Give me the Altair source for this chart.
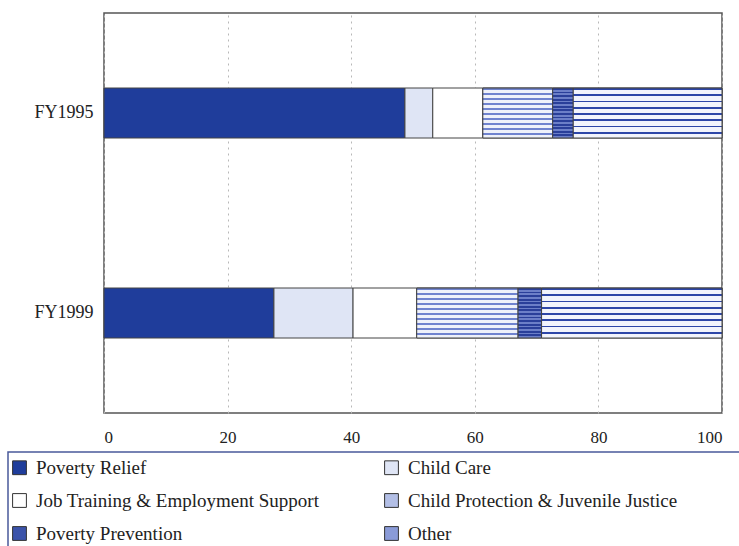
import altair as alt
import pandas as pd

# Share of spending by program area, FY1995 vs FY1999 (percent of total)
years = ["FY1995", "FY1999"]
categories = [
    "Poverty Relief",
    "Child Care",
    "Job Training & Employment Support",
    "Child Protection & Juvenile Justice",
    "Poverty Prevention",
    "Other",
]
fy1995 = [48.7, 4.5, 8.1, 11.3, 3.3, 24.1]
fy1999 = [27.5, 12.8, 10.3, 16.4, 3.8, 29.2]

# Solid tones used for the legend swatches and the base bars
palette = ["#1f3d9b", "#dfe5f5", "#ffffff", "#b3bfe6", "#3b53aa", "#8a9bd8"]

rows = []
for year, values in zip(years, [fy1995, fy1999]):
    for i, (cat, v) in enumerate(zip(categories, values)):
        rows.append({"year": year, "category": cat, "value": v, "order": i})
df = pd.DataFrame(rows)

SERIF = "Liberation Serif"
BAR = 50


def stripes(line, gap, n, frac):
    """Hard-edged horizontal stripes expressed as a vertical linear gradient."""
    stops = []
    for i in range(n):
        a = i / n
        b = (i + frac) / n
        c = (i + 1) / n
        stops += [
            {"offset": a, "color": line},
            {"offset": b, "color": line},
            {"offset": b, "color": gap},
            {"offset": c, "color": gap},
        ]
    return {"gradient": "linear", "x1": 0, "y1": 0, "x2": 0, "y2": 1, "stops": stops}


base = alt.Chart(df).transform_stack(
    stack="value",
    groupby=["year"],
    as_=["start", "end"],
    sort=[alt.SortField("order", order="ascending")],
)

y_enc = alt.Y(
    "year:N",
    sort=years,
    title=None,
    scale=alt.Scale(paddingInner=0, paddingOuter=0),
    axis=alt.Axis(
        ticks=False,
        domain=False,
        labelFont=SERIF,
        labelFontSize=18,
        labelColor="#222222",
        labelPadding=11,
    ),
)
x_enc = alt.X(
    "start:Q",
    title=None,
    scale=alt.Scale(domain=[0, 100], nice=False),
    axis=alt.Axis(
        values=[0, 20, 40, 60, 80, 100],
        ticks=False,
        domain=False,
        grid=True,
        gridDash=[2, 4],
        gridColor="#b8b8b8",
        labelFont=SERIF,
        labelFontSize=17,
        labelColor="#222222",
        labelPadding=16,
    ),
)

bars = base.mark_bar(size=BAR, stroke="#444444", strokeWidth=1).encode(
    y=y_enc,
    x=x_enc,
    x2="end:Q",
    color=alt.Color(
        "category:N",
        sort=categories,
        scale=alt.Scale(domain=categories, range=palette),
        legend=alt.Legend(
            title=None,
            orient="none",
            direction="horizontal",
            legendX=-94,
            legendY=445,
            columns=2,
            columnPadding=62,
            rowPadding=13,
            padding=0,
            symbolType="square",
            symbolSize=190,
            symbolStrokeColor="#333333",
            symbolStrokeWidth=1,
            symbolOpacity=1,
            labelFont=SERIF,
            labelFontSize=19,
            labelColor="#222222",
            labelLimit=400,
            labelOffset=7,
        ),
    ),
)

# Texture overlays for the banded categories
other_tex = (
    base.transform_filter(alt.datum.category == "Other")
    .mark_bar(
        size=BAR,
        fill=stripes("#2d46a8", "#f2f4fc", 8, 0.3),
        stroke="#444444",
        strokeWidth=1,
    )
    .encode(y=y_enc, x=x_enc, x2="end:Q")
)
protect_tex = (
    base.transform_filter(alt.datum.category == "Child Protection & Juvenile Justice")
    .mark_bar(
        size=BAR,
        fill=stripes("#6f83cf", "#eef1fa", 10, 0.4),
        stroke="#444444",
        strokeWidth=1,
    )
    .encode(y=y_enc, x=x_enc, x2="end:Q")
)
prevent_tex = (
    base.transform_filter(alt.datum.category == "Poverty Prevention")
    .mark_bar(
        size=BAR,
        fill=stripes("#2a3f9a", "#6c7fc8", 14, 0.5),
        stroke="#444444",
        strokeWidth=1,
    )
    .encode(y=y_enc, x=x_enc, x2="end:Q")
)

# Frame drawn around the legend block
legend_box = (
    alt.Chart(pd.DataFrame({"k": [0]}))
    .mark_rect(fill=None, stroke="#4a5a9a", strokeWidth=1.5)
    .encode(
        x=alt.value(-96),
        x2=alt.value(660),
        y=alt.value(439),
        y2=alt.value(560),
    )
)

chart = (
    alt.layer(bars, other_tex, protect_tex, prevent_tex, legend_box)
    .properties(
        width=618,
        height=400,
        autosize=alt.AutoSizeParams(type="none"),
        padding={"left": 104, "top": 13, "right": 17, "bottom": 133},
        background="white",
    )
    .configure_view(stroke="#555555", strokeWidth=1.5)
)

chart.save("out.html", embed_options={"renderer": "svg", "actions": False})
